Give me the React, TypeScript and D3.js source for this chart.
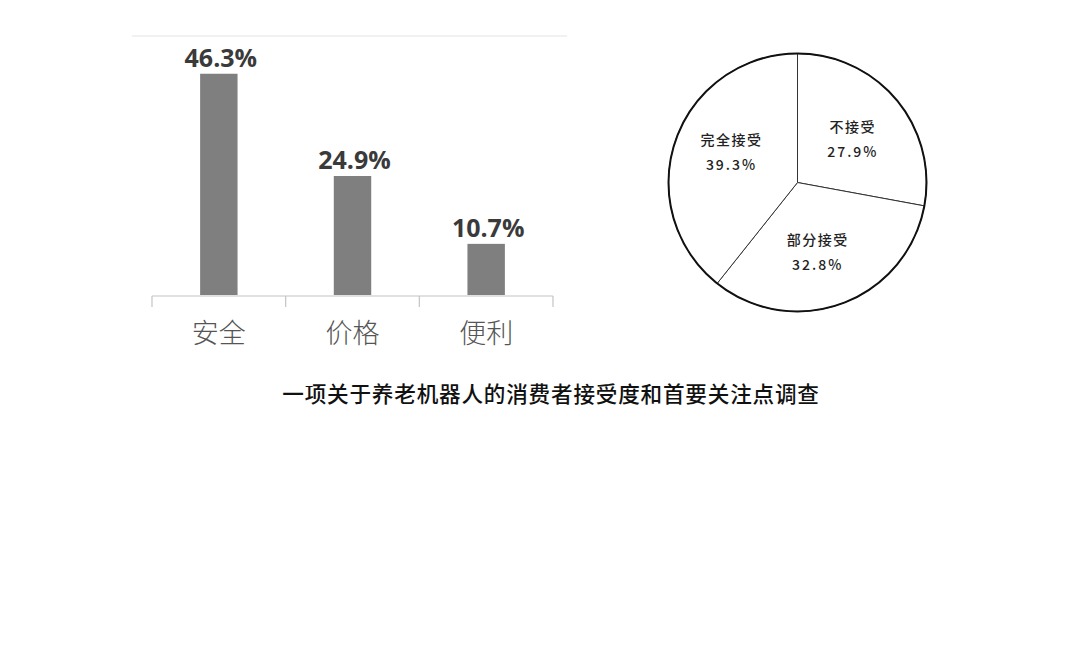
import { useMemo } from 'react'
import * as d3 from 'd3'

// bar chart: top concerns
const categories = ['安全', '价格', '便利']
const shares = [46.3, 24.9, 10.7]

// pie chart: acceptance
const pieLabels = ['不接受', '部分接受', '完全接受']
const pieValues = [27.9, 32.8, 39.3]

const title = '一项关于养老机器人的消费者接受度和首要关注点调查'

const W = 1080
const H = 669
const cjk = '"Noto Sans CJK SC", "Noto Sans", sans-serif'

export default function App() {
  // bar layout
  const bar = { left: 152, right: 553, top: 36, bottom: 296 }

  const x = useMemo(() => d3.scaleBand<string>()
    .domain(categories)
    .range([bar.left, bar.right])
    .paddingInner(0.72)
    .paddingOuter(0.36), [])

  const y = useMemo(() => d3.scaleLinear()
    .domain([0, 54.2])
    .range([bar.bottom - 1, bar.top]), [])

  // ticks sit on the category boundaries
  const tickXs = d3.range(categories.length + 1).map(i => bar.left + i * (bar.right - bar.left) / categories.length)

  // pie layout
  const cx = 797.5
  const cy = 182.5
  const R = 129
  const pie = d3.pie<number>().sort(null).value(d => d)
  const arcs = pie(pieValues)
  const arc = d3.arc<d3.PieArcDatum<number>>().innerRadius(0).outerRadius(R)
  const labelArc = d3.arc<d3.PieArcDatum<number>>().innerRadius(72).outerRadius(72)
  const nudge = [[0, 0], [-5, -1], [2, -10]]

  return (
    <svg width={W} height={H} style={{ position: 'absolute', left: 0, top: 0, background: '#fff' }}>
      {/* top rule */}
      <line x1={132} x2={567} y1={bar.top} y2={bar.top} stroke="#ececec" strokeWidth={1.5} />

      {categories.map((c, i) => (
        <g key={c}>
          <rect
            x={x(c)}
            y={y(shares[i])}
            width={x.bandwidth()}
            height={y(0) - y(shares[i])}
            fill="#7f7f7f"
          />
          <text
            x={(x(c) || 0) + x.bandwidth() / 2 + 2}
            y={y(shares[i]) - 7}
            textAnchor="middle"
            fontFamily='"Open Sans", sans-serif'
            fontWeight={700}
            fontSize={25}
            fill="#3a3a3a"
          >
            {shares[i].toFixed(1)}%
          </text>
          <text
            x={(x(c) || 0) + x.bandwidth() / 2}
            y={343}
            textAnchor="middle"
            fontFamily={cjk}
            fontWeight={300}
            fontSize={27}
            fill="#555"
          >
            {c}
          </text>
        </g>
      ))}

      {/* category axis */}
      <line x1={bar.left} x2={bar.right} y1={bar.bottom} y2={bar.bottom} stroke="#c4c4c4" strokeWidth={1.2} />
      {tickXs.map((tx, i) => (
        <line key={i} x1={tx} x2={tx} y1={bar.bottom} y2={bar.bottom + 11} stroke="#c4c4c4" strokeWidth={1.2} />
      ))}

      {/* pie */}
      <g transform={`translate(${cx},${cy})`}>
        {arcs.map((a, i) => (
          <path key={pieLabels[i]} d={arc(a) || ''} fill="#fff" stroke="#333" strokeWidth={1} />
        ))}
        <circle r={R} fill="none" stroke="#111" strokeWidth={2} />
        {arcs.map((a, i) => {
          const [lx, ly] = labelArc.centroid(a)
          return (
            <g key={'l' + i} fontFamily={cjk} fontSize={14} fontWeight={500} fill="#222" textAnchor="middle"
              transform={`translate(${nudge[i][0]},${nudge[i][1]})`}>
              <text x={lx} y={ly - 4} letterSpacing={1.5}>{pieLabels[i]}</text>
              <text x={lx} y={ly + 21} letterSpacing={2}>{pieValues[i].toFixed(1)}%</text>
            </g>
          )
        })}
      </g>

      {/* title */}
      <text
        x={551}
        y={402}
        textAnchor="middle"
        fontFamily={cjk}
        fontWeight={500}
        fontSize={21.6}
        letterSpacing={0.8}
        fill="#111"
      >
        {title}
      </text>
    </svg>
  )
}
